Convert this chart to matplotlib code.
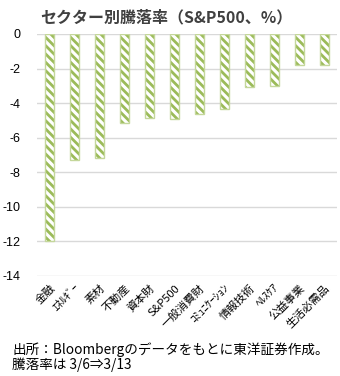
import numpy as np
import matplotlib
matplotlib.use("Agg")
import matplotlib.pyplot as plt

plt.rcParams['font.family']=['Noto Sans CJK JP','DejaVu Sans']
plt.rcParams['hatch.linewidth']=2.0

sectors=["金融","ｴﾈﾙｷﾞｰ","素材","不動産","資本財","S&P500","一般消費財","ｺﾐｭﾆｹｰｼｮﾝ","情報技術","ﾍﾙｽｹｱ","公益事業","生活必需品"]
returns=[-12.0,-7.3,-7.15,-5.15,-4.88,-4.92,-4.65,-4.32,-3.08,-3.01,-1.78,-1.78]
yticks=[0,-2,-4,-6,-8,-10,-12,-14]

fig=plt.figure(figsize=(3.4,3.76),dpi=100,facecolor="white")
ax=fig.add_axes([37/340,1-276/376,300/340,242/376])
x=np.arange(len(sectors))
ax.bar(x,returns,width=0.33,color="white",edgecolor="#9BBB59",hatch="\\\\\\\\",linewidth=0,zorder=3)
ax.bar(x,returns,width=0.33,fill=False,edgecolor="#C4D79B",linewidth=1.0,zorder=4)
ax.set_xlim(-0.5,len(sectors)-0.5)
ax.set_ylim(-14,0)
ax.set_yticks(yticks)
ax.set_yticklabels([str(v) for v in yticks],fontsize=9,family="Liberation Sans")
ax.tick_params(axis="y",length=0,pad=12)
ax.tick_params(axis="x",length=0,pad=5)
ax.set_xticks(x)
ax.set_xticklabels(sectors,rotation=45,ha="right",rotation_mode="anchor",fontsize=8)
ax.grid(axis="y",color="#D9D9D9",lw=1.0,zorder=0)
for s in ax.spines.values():
    s.set_visible(False)

fig.text(40/340,1-17/376,"セクター別騰落率（S&P500、%）",fontsize=11.5,fontweight="bold",color="#404040",va="center")
fig.text(12/340,1-350/376,"出所：Bloombergのデータをもとに東洋証券作成。",fontsize=9.8,va="center")
fig.text(12/340,1-365/376,"騰落率は 3/6⇒3/13",fontsize=9.8,va="center")

fig.savefig("out.png",dpi=100,facecolor="white")
